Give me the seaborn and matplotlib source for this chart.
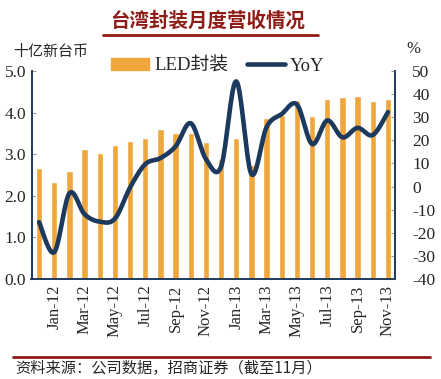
import numpy as np
import pandas as pd
import matplotlib
matplotlib.use("Agg")
import matplotlib.pyplot as plt
import seaborn as sns
from matplotlib.lines import Line2D
from matplotlib.patches import Patch

# monthly revenue, Dec-11 .. Nov-13
months = ["Dec-11", "Jan-12", "Feb-12", "Mar-12", "Apr-12", "May-12", "Jun-12", "Jul-12",
          "Aug-12", "Sep-12", "Oct-12", "Nov-12", "Dec-12", "Jan-13", "Feb-13", "Mar-13",
          "Apr-13", "May-13", "Jun-13", "Jul-13", "Aug-13", "Sep-13", "Oct-13", "Nov-13"]
led_revenue = [2.66, 2.33, 2.59, 3.12, 3.02, 3.21, 3.32, 3.38, 3.61, 3.52, 3.51, 3.29,
               2.89, 3.38, 2.73, 3.86, 3.94, 4.30, 3.92, 4.32, 4.37, 4.40, 4.28, 4.33]
yoy = [-15.4, -28.4, -2.9, -12.0, -15.2, -13.9, -0.4, 9.7, 12.3, 17.4, 27.4, 11.9,
       8.6, 45.5, 5.4, 25.7, 31.4, 35.5, 18.4, 28.6, 21.3, 25.4, 22.3, 32.2]

df = pd.DataFrame({"month": months, "led": led_revenue, "yoy": yoy})

sns.set_style("white")
serif = ["Liberation Serif", "Noto Sans CJK SC"]
cjk = ["Noto Sans CJK SC", "DejaVu Sans"]
plt.rcParams["font.family"] = serif

bar_color = "#EFA63C"
line_color = "#1C3A5E"
red = "#8E1B16"

fig = plt.figure(figsize=(4.41, 3.79), dpi=100)
ax = fig.add_axes([31.5 / 441, 1 - 279 / 379, (395.5 - 31.5) / 441, (279 - 71) / 379])

sns.barplot(data=df, x="month", y="led", color=bar_color, width=0.42,
            saturation=1, ax=ax)
ax.set_xlim(-0.5, len(months) - 0.5)
ax.set_ylim(0, 5)
ax.set_yticks(np.arange(0, 5.01, 1.0))
ax.set_yticklabels([f"{v:.1f}" for v in np.arange(0, 5.01, 1.0)], fontsize=12.5)
ax.set_xticks(range(1, len(months), 2))
ax.set_xticklabels(months[1::2], rotation=90, fontsize=12)
ax.tick_params(axis="x", length=0, pad=4)
ax.tick_params(axis="y", direction="in", length=3, color="#999999", pad=4)
ax.set_xticks(np.arange(2.5, len(months) - 1, 3), minor=True)
ax.tick_params(axis="x", which="minor", direction="in", length=6, color="#aaaaaa")
ax.set_xlabel("")
ax.set_ylabel("")

ax2 = ax.twinx()
# smooth the drawn line like the original chart (Catmull-Rom through the data points)
x = np.arange(len(yoy), dtype=float)
y = np.array(yoy)
px = np.concatenate([[x[0]], x, [x[-1]]])
py = np.concatenate([[y[0]], y, [y[-1]]])
sx, sy = [], []
t = np.linspace(0, 1, 20)
for i in range(1, len(px) - 2):
    for arr, out in ((px, sx), (py, sy)):
        p0, p1, p2, p3 = arr[i - 1], arr[i], arr[i + 1], arr[i + 2]
        out.extend(0.5 * ((2 * p1) + (-p0 + p2) * t + (2 * p0 - 5 * p1 + 4 * p2 - p3) * t ** 2
                          + (-p0 + 3 * p1 - 3 * p2 + p3) * t ** 3))
sns.lineplot(x=sx, y=sy, color=line_color, linewidth=3.3, sort=False, ax=ax2)
ax2.set_ylim(-40, 50)
ax2.set_yticks(range(-40, 51, 10))
ax2.set_yticklabels([str(v) for v in range(-40, 51, 10)], fontsize=12.5)
ax2.tick_params(axis="y", direction="in", length=3, color="#999999", pad=12)
ax.set_xlim(-0.5, len(months) - 0.5)

for a in (ax, ax2):
    a.spines["top"].set_visible(False)
    a.spines["bottom"].set_color(line_color)
    a.spines["left"].set_color(line_color)
    a.spines["right"].set_color(line_color)
    for s in a.spines.values():
        s.set_linewidth(1.2)
    a.grid(False)

handles = [Patch(color=bar_color), Line2D([0], [0], color=line_color, linewidth=3.3)]
fig.legend(handles, ["LED封装", "YoY"], loc="center", bbox_to_anchor=(218 / 441, 1 - 66 / 379),
           ncol=2, frameon=False, handlelength=2.0, handleheight=0.6,
           columnspacing=1.0, handletextpad=0.3, prop={"family": serif, "size": 13.5})

fig.text(208 / 441, 1 - 21 / 379, "台湾封装月度营收情况", ha="center", va="center",
         fontsize=14, color=red, fontweight="bold", family=cjk)
fig.add_artist(Line2D([103 / 441, 318 / 441], [1 - 35 / 379] * 2, color=red, linewidth=2))
fig.text(13 / 441, 1 - 52 / 379, "十亿新台币", ha="left", va="center", fontsize=10.8, family=cjk)
fig.text(413 / 441, 1 - 49 / 379, "%", ha="center", va="center", fontsize=12)
fig.add_artist(Line2D([13 / 441, 430 / 441], [1 - 357 / 379] * 2, color=red, linewidth=2))
fig.text(15 / 441, 1 - 368 / 379, "资料来源：公司数据，招商证券（截至11月）", ha="left", va="center",
         fontsize=11, family=cjk)

fig.savefig("out.png", dpi=100)
